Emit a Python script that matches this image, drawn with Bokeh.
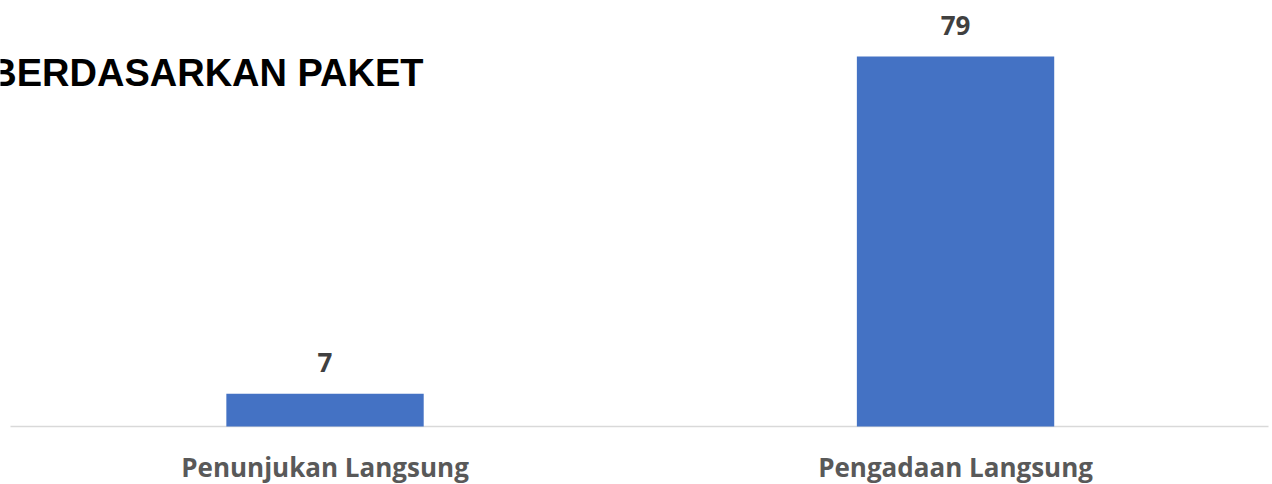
from bokeh.plotting import figure
from bokeh.models import ColumnDataSource, Label, BoxAnnotation, Range1d
from bokeh.core.properties import value
from bokeh.embed import file_html
from bokeh.resources import INLINE

categories = ["Penunjukan Langsung", "Pengadaan Langsung"]
counts = [7, 79]
labels = [str(v) for v in counts]
title_text = "BERDASARKAN PAKET"

# category slots on the x scale (one unit per category)
xpos = [i + 0.5 for i in range(len(categories))]

src = ColumnDataSource(dict(x=xpos, cat=categories, val=counts, lab=labels,
                            zero=[0] * len(counts)))

p = figure(x_range=Range1d(-0.0147, 2.0027), y_range=Range1d(-12.38, 90.95),
           width=1272, height=484, output_backend="svg", toolbar_location=None,
           min_border_left=0, min_border_right=0, min_border_top=0, min_border_bottom=0)
p.xaxis.visible = False
p.yaxis.visible = False
p.xgrid.grid_line_color = None
p.ygrid.grid_line_color = None
p.outline_line_color = None
p.background_fill_color = "white"
p.border_fill_color = "white"

p.vbar(x="x", top="val", bottom=0, width=0.313, source=src,
       fill_color="#4472C4", line_color=None)

# category axis baseline
p.add_layout(BoxAnnotation(left=10, right=1268, left_units="screen", right_units="screen",
                           bottom=-0.16, top=0.16, fill_color="#D9D9D9", fill_alpha=1.0,
                           line_color=None, level="underlay"))

p.text(x="x", y="val", text="lab", source=src, y_offset=-31,
       text_align="center", text_baseline="middle",
       text_font=value("Open Sans"), text_font_style="bold",
       text_font_size="26px", text_color="#404040")

p.text(x="x", y="zero", text="cat", source=src, y_offset=40,
       text_align="center", text_baseline="middle",
       text_font=value("Open Sans"), text_font_style="bold",
       text_font_size="26px", text_color="#595959")

p.add_layout(Label(x=423, y=412, x_units="screen", y_units="screen", text=title_text,
                   text_align="right", text_baseline="middle",
                   text_font="'Liberation Sans', Arial, sans-serif",
                   text_font_style="bold", text_font_size="38px", text_color="black"))

open("out.html", "w").write(file_html(p, INLINE))
